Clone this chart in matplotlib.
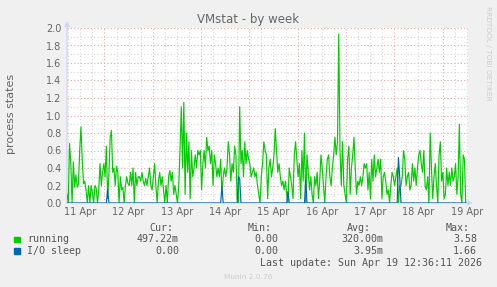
import numpy as np
import matplotlib
matplotlib.use('Agg')
import matplotlib.pyplot as plt

# DATA - days counted from 11 Apr (label centres), one sample every ~38 min
day_labels = ['11 Apr', '12 Apr', '13 Apr', '14 Apr', '15 Apr', '16 Apr', '17 Apr', '18 Apr', '19 Apr']
T_START, T_END = -0.275, 7.98

running = [
    0.1, 0.0, 0.68, 0.45, 0.0, 0.47, 0.18, 0.32, 0.18, 0.22,
    0.6, 0.87, 0.5, 0.22, 0.25, 0.15, 0.0, 0.2, 0.0, 0.2,
    0.12, 0.0, 0.2, 0.17, 0.0, 0.15, 0.45, 0.2, 0.35, 0.45,
    0.3, 0.65, 0.05, 0.32, 0.75, 0.83, 0.35, 0.4, 0.2, 0.42,
    0.35, 0.0, 0.3, 0.15, 0.18, 0.0, 0.2, 0.3, 0.22, 0.2,
    0.35, 0.2, 0.4, 0.0, 0.35, 0.2, 0.3, 0.3, 0.25, 0.35,
    0.25, 0.2, 0.28, 0.2, 0.3, 0.4, 0.2, 0.15, 0.3, 0.45,
    0.2, 0.0, 0.25, 0.35, 0.2, 0.3, 0.15, 0.0, 0.2, 0.0,
    0.3, 0.37, 0.25, 0.35, 0.1, 0.2, 0.1, 0.0, 0.2, 0.6,
    1.1, 0.4, 1.15, 0.1, 0.8, 0.35, 0.7, 0.05, 0.6, 0.3,
    0.4, 0.55, 0.4, 0.6, 0.55, 0.6, 0.15, 0.45, 0.6, 0.4,
    0.75, 0.6, 0.65, 0.45, 0.6, 0.2, 0.55, 0.45, 0.3, 0.4,
    0.3, 0.5, 0.1, 0.3, 0.4, 0.3, 0.4, 0.7, 0.55, 0.25,
    0.45, 0.35, 0.65, 0.55, 0.05, 0.0, 1.1, 0.45, 0.6, 0.3,
    0.7,
    0.45, 0.6, 0.5,
    0.45, 0.3, 0.35, 0.4, 0.3, 0.35, 0.2, 0.1, 0.0, 0.3, 0.45, 0.7, 0.6, 0.55, 0.05,
    0.4, 0.5, 0.3, 0.4, 0.55, 0.85, 0.6, 0.35, 0.45, 0.3, 0.2, 0.25, 0.15,
    0.25, 0.1, 0.0, 0.4, 0.3, 0.2, 0.05, 0.55, 0.7, 0.5, 0.3, 0.45, 0.05,
    0.6, 0.25, 0.8, 0.0, 0.55, 0.35, 0.15, 0.3, 0.1, 0.0, 0.3,
    0.2, 0.35, 0.05, 0.25, 0.55, 0.4, 0.2, 0.0, 0.3, 0.5, 0.55, 0.3,
    0.2, 0.4, 0.55, 0.75, 0.55, 0.7, 1.93,
    0.6, 0.2, 0.7, 0.2,
    0.1, 0.0, 0.5, 0.65, 0.1, 0.4, 0.55, 0.75, 0.4, 0.1,
    0.25, 0.2, 0.3, 0.2, 0.3, 0.45, 0.4, 0.45, 0.15, 0.35, 0.05,
    0.5, 0.25, 0.55, 0.3, 0.4, 0.5, 0.35, 0.5, 0.05, 0.3,
    0.35, 0.25, 0.1, 0.15, 0.0, 0.2, 0.35, 0.3, 0.2, 0.3, 0.4,
    0.0, 0.2, 0.2, 0.3, 0.6, 0.5, 0.2, 0.3, 0.35, 0.15,
    0.2, 0.45, 0.25, 0.4, 0.2, 0.4, 0.55, 0.6, 0.45, 0.35, 0.6,
    0.2, 0.15, 0.3, 0.0, 0.8, 0.4, 0.05, 0.3, 0.45, 0.2, 0.0,
    0.55, 0.7, 0.25, 0.35, 0.05, 0.1, 0.4, 0.2, 0.35, 0.2,
    0.4, 0.25, 0.3, 0.45, 0.1, 0.3, 0.9, 0.1, 0.0, 0.55,
    0.5, 0.0,
]

# I/O sleep is zero except for a few short spikes (sample index -> value)
io_spike_idx = [32, 122, 135, 136, 174, 188, 261, 262]
io_spike_val = [0.16, 0.19, 0.30, 0.28, 0.13, 0.26, 0.52, 0.30]

legend_rows = [
    ('running', '#00cc00', '497.22m', '0.00', '320.00m', '3.58'),
    ('I/O sleep', '#0066b3', '0.00', '0.00', '3.95m', '1.66'),
]
last_update = 'Last update: Sun Apr 19 12:36:11 2026'

times = np.linspace(T_START, T_END, len(running))
io_sleep = np.zeros(len(running))
io_sleep[io_spike_idx] = io_spike_val

W, H = 497, 287
FONT = '#666666'
AXIS = '#cfd6f8'

fig = plt.figure(figsize=(W / 100, H / 100), dpi=100, facecolor='#f0f0f0')
ax = fig.add_axes([67 / W, 1 - 203 / H, (468 - 67) / W, (203 - 28) / H])
ax.set_facecolor('white')
ax.set_xlim(T_START, 8.027)
ax.set_ylim(0, 2.0)

# grid: minor every 6 h / 0.1, major (red) at midnight / 0.2
for x in np.arange(-0.25, 8.01, 0.25):
    major = abs((x - 0.5) - round(x - 0.5)) < 1e-6
    ax.axvline(x, color='#e6a8a8' if major else '#d6d6d6', lw=0.8,
               ls=(0, (1, 2)), zorder=1)
for y in np.arange(0.1, 2.01, 0.1):
    major = abs(y / 0.2 - round(y / 0.2)) < 1e-6
    ax.axhline(y, color='#e6a8a8' if major else '#d6d6d6', lw=0.8,
               ls=(0, (1, 2)), zorder=1)

ax.plot(times, running, color='#00cc00', lw=0.85, zorder=3)
ax.plot(times, io_sleep, color='#0066b3', lw=0.85, zorder=4)

for s in ['top', 'right', 'left', 'bottom']:
    ax.spines[s].set_visible(False)
ax.annotate('', xy=(0, 1.04), xytext=(0, 0), xycoords='axes fraction',
            arrowprops=dict(arrowstyle='-|>', color=AXIS, lw=1, mutation_scale=7,
                            shrinkA=0, shrinkB=0), zorder=2)
ax.annotate('', xy=(1.012, 0), xytext=(0, 0), xycoords='axes fraction',
            arrowprops=dict(arrowstyle='-|>', color=AXIS, lw=1, mutation_scale=7,
                            shrinkA=0, shrinkB=0), zorder=2)

ax.set_xticks(range(len(day_labels)))
ax.set_xticklabels(day_labels)
ax.set_yticks(np.arange(0, 2.01, 0.2))
ax.set_yticklabels([f'{v:.1f}' for v in np.arange(0, 2.01, 0.2)])
ax.tick_params(axis='both', length=0, labelsize=7, colors=FONT)
ax.tick_params(axis='x', pad=3)
ax.tick_params(axis='y', pad=4)

fig.text(248 / W, 1 - 19.5 / H, 'VMstat - by week', ha='center', va='center',
         fontsize=8.5, color=FONT)
fig.text(11 / W, 1 - 114 / H, 'process states', ha='center', va='center',
         rotation=90, fontsize=8, color=FONT)
fig.text(488 / W, 1 - 53 / H, 'RRDTOOL / TOBI OETIKER', ha='center', va='center',
         rotation=270, fontsize=5.3, color='#cccccc')

mono = dict(family='DejaVu Sans Mono', fontsize=7.2, color='#555555', va='center')
for hdr, xr in zip(['Cur:', 'Min:', 'Avg:', 'Max:'], [173, 272, 371, 470]):
    fig.text(xr / W, 1 - 228 / H, hdr, ha='right', **mono)
for i, (name, col, cur, mn, avg, mx) in enumerate(legend_rows):
    yc = 239.3 + i * 11.7
    fig.patches.append(plt.Rectangle((14 / W, 1 - (yc + 2.8) / H), 5.5 / W, 5.5 / H,
                                     transform=fig.transFigure, color=col, figure=fig))
    fig.text(27 / W, 1 - yc / H, name, ha='left', **mono)
    for val, xr in zip([cur, mn, avg, mx], [179, 278, 383, 477]):
        fig.text(xr / W, 1 - yc / H, val, ha='right', **mono)
fig.text(482.5 / W, 1 - 263.3 / H, last_update, ha='right', **mono)
fig.text(248 / W, 1 - 276.7 / H, 'Munin 2.0.76', ha='center', va='center',
         fontsize=5.3, color='#cccccc')

fig.savefig('out.png', dpi=100, facecolor=fig.get_facecolor())
